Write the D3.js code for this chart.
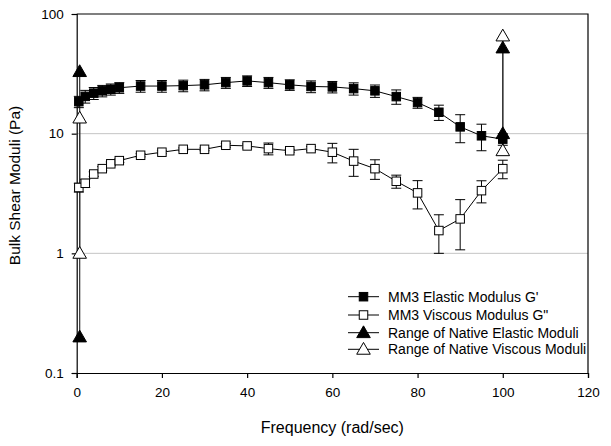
<!DOCTYPE html>
<html>
<head>
<meta charset="utf-8">
<script src="https://cdn.jsdelivr.net/npm/d3@7"></script>
<style>
  html, body { margin: 0; padding: 0; background: #fff; }
  svg { display: block; font-family: "Liberation Sans", Arial, sans-serif; }
</style>
</head>
<body>
<svg id="chart" width="611" height="446"></svg>
<script>
// ---- data ----
const frequency = [0.5, 2, 4, 6, 8, 10, 15, 20, 25, 30, 35, 40, 45, 50, 55, 60, 65, 70, 75, 80, 85, 90, 95, 100];
const elasticG = [18.5, 20.5, 21.8, 22.8, 23.5, 24.2, 25.0, 25.0, 25.2, 25.6, 26.7, 27.6, 26.7, 25.6, 24.8, 24.6, 23.8, 22.8, 20.4, 18.2, 15.1, 11.4, 9.6, 9.0];
const elasticErr = [2.0, 2.5, 2.5, 2.5, 2.5, 2.5, 2.8, 2.8, 2.8, 2.8, 2.8, 2.8, 2.8, 2.6, 2.8, 2.7, 2.8, 2.7, 2.8, 1.9, 2.2, 3.0, 2.4, 1.0];
const viscousG = [3.55, 3.85, 4.6, 5.1, 5.6, 5.95, 6.6, 7.0, 7.4, 7.4, 8.0, 7.9, 7.5, 7.2, 7.5, 7.0, 5.9, 5.1, 4.0, 3.2, 1.55, 1.94, 3.34, 5.1];
const viscousErr = [0.3, 0.3, 0.2, 0.2, 0.2, 0.2, 0.2, 0.2, 0.2, 0.2, 0.3, 0.3, 0.85, 0.2, 0.3, 1.3, 1.5, 0.95, 0.5, 0.85, 0.55, 0.87, 0.7, 0.9];
const nativeFreq = [0.7, 100];
const nativeElasticMin = [0.2, 10];
const nativeElasticMax = [33, 52];
const nativeViscousMin = [1.0, 7.2];
const nativeViscousMax = [13.5, 65.5];
const xTicks = [0, 20, 40, 60, 80, 100, 120];
const yTicks = [0.1, 1, 10, 100];
const yTickLabels = ["0.1", "1", "10", "100"];
const gridValues = [1, 10];
const legendLabels = ["MM3 Elastic Modulus G'", "MM3 Viscous Modulus G\"", "Range of Native Elastic Moduli", "Range of Native Viscous Moduli"];
const xTitle = "Frequency (rad/sec)";
const yTitle = "Bulk Shear Moduli (Pa)";

// ---- layout ----
const L = 76.7, R = 588, T = 14, B = 373;
const svg = d3.select("#chart");
const x = d3.scaleLinear().domain([0, 120]).range([L, R]);
const y = d3.scaleLog().domain([0.1, 100]).range([B, T]);

// gridlines
svg.append("g").selectAll("line").data(gridValues).join("line")
  .attr("x1", L).attr("x2", R).attr("y1", d => y(d)).attr("y2", d => y(d))
  .attr("stroke", "#c4c4c4").attr("stroke-width", 1);

// frame (top & right)
svg.append("path").attr("d", `M${L},${T}H${R}V${B}`).attr("fill", "none").attr("stroke", "#000").attr("stroke-width", 1.2);

// axes
const xAxis = svg.append("g").attr("transform", `translate(0,${B})`)
  .call(d3.axisBottom(x).tickValues(xTicks).tickSize(5).tickPadding(9).tickFormat(d3.format("d")));
const yAxis = svg.append("g").attr("transform", `translate(${L},0)`)
  .call(d3.axisLeft(y).tickValues(yTicks).tickSize(5).tickPadding(8).tickFormat((d, i) => yTickLabels[i]));
[xAxis, yAxis].forEach(a => {
  a.select(".domain").attr("stroke", "#000").attr("stroke-width", 1.2);
  a.selectAll(".tick line").attr("stroke", "#000").attr("stroke-width", 1.2);
  a.selectAll(".tick text").attr("fill", "#000").style("font-size", "13.5px").style("font-family", "'Liberation Sans', Arial, sans-serif");
});

// titles
svg.append("text").attr("x", (L + R) / 2).attr("y", 433).attr("text-anchor", "middle")
  .style("font-size", "16px").text(xTitle);
svg.append("text").attr("transform", `translate(20,${(T + B) / 2 - 8}) rotate(-90)`).attr("text-anchor", "middle")
  .style("font-size", "15.5px").text(yTitle);

// native range lines
const nat = nativeFreq.map((f, i) => ({ f, emin: nativeElasticMin[i], emax: nativeElasticMax[i], vmin: nativeViscousMin[i], vmax: nativeViscousMax[i] }));
svg.append("g").selectAll("line.e").data(nat).join("line")
  .attr("x1", d => x(d.f)).attr("x2", d => x(d.f)).attr("y1", d => y(d.emin)).attr("y2", d => y(d.emax))
  .attr("stroke", "#333").attr("stroke-width", 1.2);
svg.append("g").selectAll("line.v").data(nat).join("line")
  .attr("x1", d => x(d.f)).attr("x2", d => x(d.f)).attr("y1", d => y(d.vmin)).attr("y2", d => y(d.vmax))
  .attr("stroke", "#333").attr("stroke-width", 1.2);

// series
const el = frequency.map((f, i) => ({ f, v: elasticG[i], e: elasticErr[i] }));
const vi = frequency.map((f, i) => ({ f, v: viscousG[i], e: viscousErr[i] }));
const line = d3.line().x(d => x(d.f)).y(d => y(d.v));

function errorBars(data) {
  const g = svg.append("g").attr("stroke", "#000").attr("stroke-width", 1);
  const cw = 5;
  data.forEach(d => {
    const x0 = x(d.f), y1 = y(d.v + d.e), y2 = y(Math.max(d.v - d.e, 0.11));
    g.append("line").attr("x1", x0).attr("x2", x0).attr("y1", y1).attr("y2", y2);
    g.append("line").attr("x1", x0 - cw).attr("x2", x0 + cw).attr("y1", y1).attr("y2", y1);
    g.append("line").attr("x1", x0 - cw).attr("x2", x0 + cw).attr("y1", y2).attr("y2", y2);
  });
}
errorBars(vi);
errorBars(el);

svg.append("path").datum(vi).attr("d", line).attr("fill", "none").attr("stroke", "#000").attr("stroke-width", 1);
svg.append("path").datum(el).attr("d", line).attr("fill", "none").attr("stroke", "#000").attr("stroke-width", 1);

const sq = 8.5;
svg.append("g").selectAll("rect").data(vi).join("rect")
  .attr("x", d => x(d.f) - sq / 2).attr("y", d => y(d.v) - sq / 2).attr("width", sq).attr("height", sq)
  .attr("fill", "#fff").attr("stroke", "#000").attr("stroke-width", 1);
svg.append("g").selectAll("rect").data(el).join("rect")
  .attr("x", d => x(d.f) - sq / 2).attr("y", d => y(d.v) - sq / 2).attr("width", sq).attr("height", sq)
  .attr("fill", "#000").attr("stroke", "#000").attr("stroke-width", 1);

// triangles
const tri = d3.symbol().type(d3.symbolTriangle).size(80);
function triangles(vals, fill) {
  svg.append("g").selectAll("path").data(vals).join("path")
    .attr("d", tri).attr("transform", d => `translate(${x(d.f)},${y(d.v) + 1})`)
    .attr("fill", fill).attr("stroke", "#000").attr("stroke-width", 1);
}
triangles(nat.flatMap(d => [{ f: d.f, v: d.vmin }, { f: d.f, v: d.vmax }]), "#fff");
triangles(nat.flatMap(d => [{ f: d.f, v: d.emin }, { f: d.f, v: d.emax }]), "#000");

// legend
const legY = [296.7, 315, 332.7, 349.3];
const lg = svg.append("g");
legendLabels.forEach((lab, i) => {
  const yy = legY[i];
  lg.append("line").attr("x1", 348).attr("x2", 379).attr("y1", yy).attr("y2", yy).attr("stroke", "#000").attr("stroke-width", 1);
  if (i < 2) {
    lg.append("rect").attr("x", 363.5 - sq / 2).attr("y", yy - sq / 2).attr("width", sq).attr("height", sq)
      .attr("fill", i === 0 ? "#000" : "#fff").attr("stroke", "#000");
  } else {
    lg.append("path").attr("d", tri).attr("transform", `translate(363.5,${yy + 1})`)
      .attr("fill", i === 2 ? "#000" : "#fff").attr("stroke", "#000");
  }
  lg.append("text").attr("x", 388).attr("y", yy + 5).style("font-size", "14px").text(lab);
});
</script>
</body>
</html>
